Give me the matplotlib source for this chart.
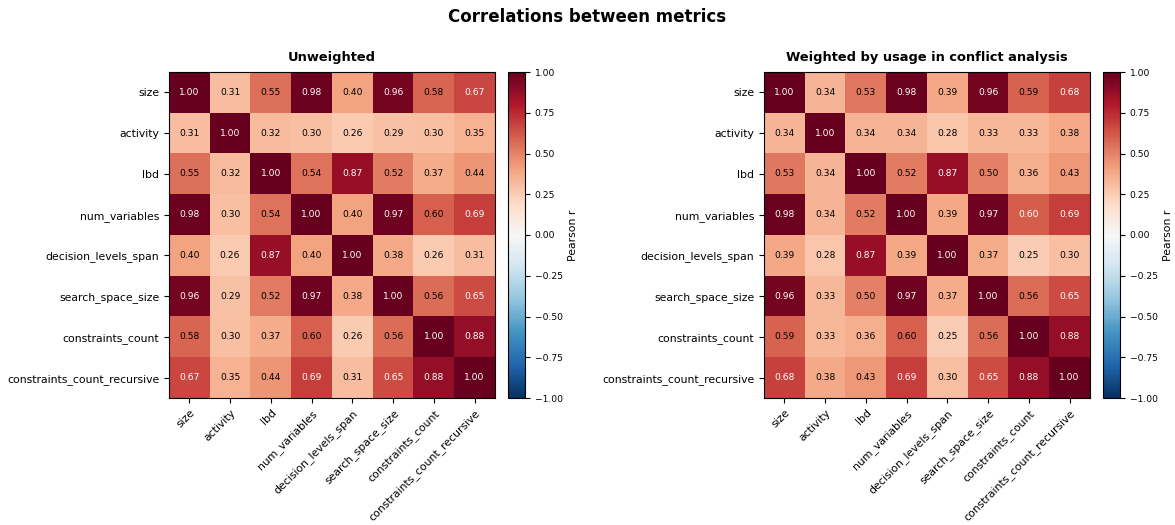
import numpy as np
import matplotlib
matplotlib.use("Agg")
import matplotlib.pyplot as plt

metrics = ["size", "activity", "lbd", "num_variables", "decision_levels_span",
           "search_space_size", "constraints_count", "constraints_count_recursive"]

unweighted = [
    [1.00, 0.31, 0.55, 0.98, 0.40, 0.96, 0.58, 0.67],
    [0.31, 1.00, 0.32, 0.30, 0.26, 0.29, 0.30, 0.35],
    [0.55, 0.32, 1.00, 0.54, 0.87, 0.52, 0.37, 0.44],
    [0.98, 0.30, 0.54, 1.00, 0.40, 0.97, 0.598, 0.69],
    [0.40, 0.26, 0.87, 0.40, 1.00, 0.38, 0.26, 0.31],
    [0.96, 0.29, 0.52, 0.97, 0.38, 1.00, 0.56, 0.65],
    [0.58, 0.30, 0.37, 0.598, 0.26, 0.56, 1.00, 0.88],
    [0.67, 0.35, 0.44, 0.69, 0.31, 0.65, 0.88, 1.00],
]

weighted = [
    [1.00, 0.34, 0.53, 0.98, 0.39, 0.96, 0.59, 0.68],
    [0.34, 1.00, 0.34, 0.34, 0.28, 0.33, 0.33, 0.38],
    [0.53, 0.34, 1.00, 0.52, 0.87, 0.50, 0.36, 0.43],
    [0.98, 0.34, 0.52, 1.00, 0.39, 0.97, 0.604, 0.69],
    [0.39, 0.28, 0.87, 0.39, 1.00, 0.37, 0.25, 0.30],
    [0.96, 0.33, 0.50, 0.97, 0.37, 1.00, 0.56, 0.65],
    [0.59, 0.33, 0.36, 0.598, 0.25, 0.56, 1.00, 0.88],
    [0.68, 0.38, 0.43, 0.69, 0.30, 0.65, 0.88, 1.00],
]

titles = ["Unweighted", "Weighted by usage in conflict analysis"]

fig = plt.figure(figsize=(11.75, 5.25), dpi=100)
fig.suptitle("Correlations between metrics", fontsize=12, fontweight="bold", y=0.985)

W, H = 1175, 525
panels = [(169, 508), (764, 1103)]

for (ax_x, cb_x), mat, title in zip(panels, [unweighted, weighted], titles):
    mat = np.array(mat)
    ax = fig.add_axes([ax_x / W, (H - 398) / H, 326 / W, 326 / H])
    cax = fig.add_axes([cb_x / W, (H - 398) / H, 17 / W, 326 / H])
    im = ax.imshow(mat, cmap="RdBu_r", vmin=-1, vmax=1)
    n = len(metrics)
    ax.set_xticks(range(n))
    ax.set_yticks(range(n))
    ax.set_xticklabels(metrics, rotation=45, ha="right", rotation_mode="anchor", fontsize=7.8)
    ax.set_yticklabels(metrics, fontsize=7.8)
    for i in range(n):
        for j in range(n):
            v = mat[i, j]
            ax.text(j, i, f"{v:.2f}", ha="center", va="center", fontsize=6.6,
                    color="white" if abs(v) > 0.6 else "black")
    ax.set_title(title, fontsize=9.4, fontweight="bold", pad=8)
    cb = fig.colorbar(im, cax=cax)
    cb.set_ticks([-1, -0.75, -0.5, -0.25, 0, 0.25, 0.5, 0.75, 1])
    cb.ax.tick_params(labelsize=6.6)
    cb.set_label("Pearson r", fontsize=7.8)

fig.savefig("out.png", dpi=100)
